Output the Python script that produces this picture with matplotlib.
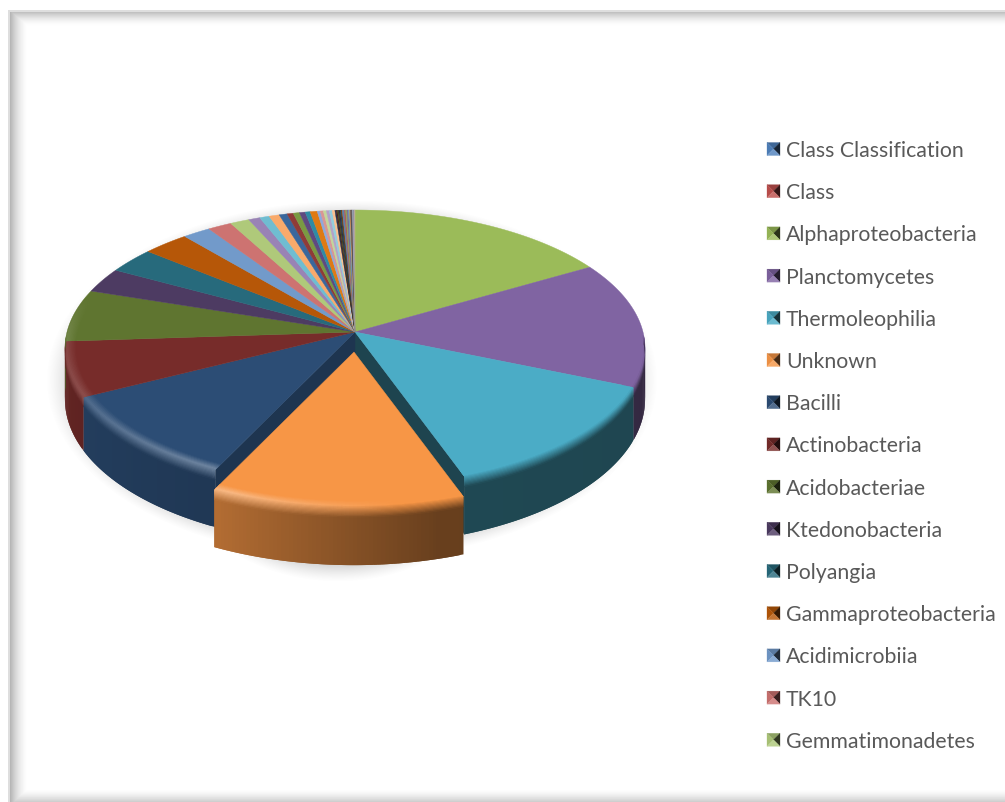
import numpy as np
import matplotlib
matplotlib.use("Agg")
import matplotlib.pyplot as plt
from matplotlib.collections import PolyCollection
from matplotlib.patches import Polygon

# Legend entries, in slice order
categories = [
    "Class Classification", "Class", "Alphaproteobacteria", "Planctomycetes",
    "Thermoleophilia", "Unknown", "Bacilli", "Actinobacteria", "Acidobacteriae",
    "Ktedonobacteria", "Polyangia", "Gammaproteobacteria", "Acidimicrobiia",
    "TK10", "Gemmatimonadetes",
]
# Share of each named class, percent
named_values = [0, 0, 16.6, 14.7, 13.2, 12.6, 10.4, 6.4, 6.1, 2.9, 3.0, 2.9,
                1.75, 1.5, 1.2]
# Remaining classes that fall outside the legend
minor_values = [0.72, 0.61, 0.64, 0.50, 0.39, 0.39, 0.36, 0.31, 0.44,
                0.19, 0.19, 0.19, 0.18, 0.18, 0.17,
                0.08, 0.08, 0.08, 0.075, 0.07, 0.07,
                0.11, 0.10, 0.085, 0.085, 0.07, 0.07, 0.055, 0.055, 0.045,
                0.045, 0.04, 0.03]
exploded_name = "Unknown"

palette = [
    "#4F81BD", "#C0504D", "#9BBB59", "#8064A2", "#4BACC6", "#F79646",
    "#2C4D75", "#772C2A", "#5F7530", "#4D3B62", "#276A7C", "#B65708",
    "#729ACA", "#CD7371", "#AFC97A", "#9983B5", "#6FBDD1", "#F9AA6B",
    "#3A679C", "#8F3B38", "#7A9A42", "#5F4A80", "#2F8BA5", "#DE7A14",
    "#8EA9DB", "#D99694", "#C3D69B", "#B3A2C7", "#93CDDD", "#FAC090",
    "#1F3552", "#4F1E1C", "#3F4E20", "#33273F", "#1A4753", "#7A3A05",
    "#5C7FAB", "#A85E5C", "#8AA35A", "#7B6696", "#5F9FB5", "#C98B55",
    "#444C55", "#6A5553", "#9AA8BC", "#A59BB3", "#6F8288", "#C8B09A",
]

# Pie geometry, in figure pixels
CX, APEX_Y = 355.0, 332.0
RX, RY = 288.0, 136.5
PERSP = 0.119
DEPTH = 50.0
EXPLODE = (-1.0, 20.0)


def rgb(c):
    return np.array(matplotlib.colors.to_rgb(c))


def project(theta, r=1.0, z=0.0, off=(0.0, 0.0)):
    """Map a point of the pie disc to the tilted, perspective view."""
    t = np.radians(theta)
    scale = 1.0 / (1.0 + PERSP * r * np.cos(t))
    x = CX + off[0] + RX * r * np.sin(t) * scale
    y = APEX_Y + off[1] - RY * r * np.cos(t) * scale + z * scale ** 1.2
    return x, y


def wall_shade(theta):
    return np.interp(theta, [90, 165, 205, 245, 270], [0.40, 0.42, 0.72, 0.80, 0.85])


def highlight(theta):
    return np.interp(theta, [90, 172, 203, 245, 272, 285], [0.0, 0.0, 0.34, 0.16, 0.10, 0.0])


def band_colour(base, theta, s):
    # s runs from the flat top (0) over the bevel to the wall (1)
    wall = base * wall_shade(theta)
    lit = base + (1 - base) * highlight(theta)
    if s < 0.4:
        c = base + (lit - base) * (s / 0.4)
    else:
        c = lit + (wall - lit) * ((s - 0.4) / 0.6)
    return np.clip(c, 0, 1)


def angle_steps(lo, hi, step=0.7):
    n = max(2, int((hi - lo) / step))
    edges = np.linspace(lo, hi, n + 1)
    # every strip runs on under its successor so no seams show between them
    return zip(edges[:-1], np.minimum(edges[1:] + (hi - lo) / n, hi))


def draw_slice_side(ax, a0, a1, base, off, z):
    lo, hi = max(a0, 92.0), min(a1, 268.0)
    if hi <= lo:
        return
    polys, cols = [], []
    for e0, e1 in angle_steps(lo, hi):
        m = 0.5 * (e0 + e1)
        polys.append([project(e0, 1, 8, off), project(e1, 1, 8, off),
                      project(e1, 1, DEPTH, off), project(e0, 1, DEPTH, off)])
        cols.append(base * wall_shade(m))
    ax.add_collection(PolyCollection(polys, facecolors=cols, edgecolors="none",
                                     linewidths=0, zorder=z))


def draw_slice_top(ax, a0, a1, base, off, z):
    th = np.linspace(a0, a1, max(3, int((a1 - a0) * 2) + 2))
    xs, ys = project(th, 1, 0, off)
    pts = [(CX + off[0], APEX_Y + off[1])] + list(zip(xs, ys))
    ax.add_patch(Polygon(pts, closed=True, fc=base, ec=base, lw=0.3, zorder=z))


def draw_slice_bevel(ax, a0, a1, base, off, z):
    lo, hi = max(a0, 85.0), min(a1, 285.0)
    if hi <= lo:
        return
    # (radius, drop) pairs describing the rounded rim profile
    profile = [(r, 0.0) for r in np.linspace(0.962, 1.0, 9)] + \
              [(1.0, d) for d in np.linspace(1.0, 9.0, 9)]
    polys, cols = [], []
    for i in range(len(profile) - 1):
        r0, z0 = profile[i]
        r1, z1 = profile[i + 1]
        if i + 2 < len(profile):
            # rows overlap the next one a little for the same reason
            r1 += 0.5 * (profile[i + 2][0] - r1)
            z1 += 0.5 * (profile[i + 2][1] - z1)
        s = (i + 0.5) / (len(profile) - 1)
        for e0, e1 in angle_steps(lo, hi):
            m = 0.5 * (e0 + e1)
            # the side drop only shows where the rim faces the viewer
            if (z0 > 0 or z1 > 0) and not 92 <= m <= 268:
                continue
            polys.append([project(e0, r0, z0, off), project(e1, r0, z0, off),
                          project(e1, r1, z1, off), project(e0, r1, z1, off)])
            cols.append(band_colour(base, m, s))
    ax.add_collection(PolyCollection(polys, facecolors=cols, edgecolors="none",
                                     linewidths=0, zorder=z))


def cut_face(ax, theta, base, z):
    px, py = project(theta, 1, 0)
    qx, qy = project(theta, 1, DEPTH)
    pts = [(CX, APEX_Y), (px, py), (qx, qy), (CX, APEX_Y + DEPTH)]
    col = base * wall_shade(theta) * 0.95
    ax.add_patch(Polygon(pts, closed=True, fc=col, ec=col, lw=0.3, zorder=z))


fig = plt.figure(figsize=(10.05, 8.02), dpi=100, facecolor="white")
ax = fig.add_axes([0, 0, 1, 1])
ax.set_axis_off()

# Chart-area frame: thin pale border with a soft inner shadow
H, W = 802, 1005
yy, xx = np.mgrid[0:H, 0:W] + 0.5
shade = np.zeros((H, W))
shade = np.maximum(shade, 0.30 * np.clip(1 - (xx - 10) / 19, 0, 1) ** 1.8 * (xx >= 10))
shade = np.maximum(shade, 0.26 * np.clip(1 - (yy - 12) / 15, 0, 1) ** 1.8 * (yy >= 12))
shade = np.maximum(shade, 0.20 * np.clip((yy - 789) / 13, 0, 1) ** 1.5)
shade[(xx < 8) | (yy < 10)] = 0
band = ((xx >= 8) & (xx < 10) & (yy >= 10)) | ((yy >= 10) & (yy < 12) & (xx >= 8))
shade[band] = 0.13
ax.imshow(1 - shade, cmap="gray", vmin=0, vmax=1, extent=(0, W, H, 0),
          aspect="auto", zorder=0, interpolation="bilinear")


# Soft drop shadow under the pie and the pulled-out slice
def ellipse_falloff(cx, cy, rx, ry, width):
    d = np.hypot((xx - cx) / rx, (yy - cy) / ry)
    return np.clip((1.0 - d) / width, 0, 1)


sh = np.maximum(ellipse_falloff(352, 380, 306, 180, 0.09),
                ellipse_falloff(338, 470, 156, 112, 0.16))
rgba = np.zeros((H, W, 4))
rgba[..., :3] = 0.5
rgba[..., 3] = 0.34 * sh ** 1.3
ax.imshow(rgba, extent=(0, W, H, 0), aspect="auto", zorder=1)

# Slices
values = np.array(named_values + minor_values, dtype=float)
starts = np.concatenate(([0.0], np.cumsum(values)[:-1])) / values.sum() * 360.0
ends = np.cumsum(values) / values.sum() * 360.0
colours = [rgb(palette[i % len(palette)]) for i in range(len(values))]
ex_idx = categories.index(exploded_name)

for i, (a0, a1, col) in enumerate(zip(starts, ends, colours)):
    if values[i] == 0 or i == ex_idx:
        continue
    draw_slice_side(ax, a0, a1, col, (0, 0), 2)

# Faces exposed by the gap the pulled-out slice leaves behind
cut_face(ax, starts[ex_idx], colours[ex_idx - 1], 3)
cut_face(ax, ends[ex_idx], colours[ex_idx + 1], 3)

for i, (a0, a1, col) in enumerate(zip(starts, ends, colours)):
    if values[i] == 0 or i == ex_idx:
        continue
    draw_slice_top(ax, a0, a1, col, (0, 0), 4)
    draw_slice_bevel(ax, a0, a1, col, (0, 0), 5)

a0, a1, col = starts[ex_idx], ends[ex_idx], colours[ex_idx]
draw_slice_side(ax, a0, a1, col, EXPLODE, 6)
draw_slice_top(ax, a0, a1, col, EXPLODE, 7)
draw_slice_bevel(ax, a0, a1, col, EXPLODE, 8)

# Legend with bevelled square keys
LEG_X, LEG_Y0, LEG_DY, KEY = 767.0, 149.0, 42.2, 13.0
for i, name in enumerate(categories):
    y = LEG_Y0 + i * LEG_DY
    c = colours[i]
    x0, x1, y0, y1 = LEG_X, LEG_X + KEY, y - KEY / 2, y + KEY / 2
    mx, my = 0.5 * (x0 + x1), 0.5 * (y0 + y1)
    faces = [
        ([(x0, y0), (x1, y0), (mx, my)], c * 0.80),
        ([(x0, y0), (x0, y1), (mx, my)], c * 0.95),
        ([(x1, y0), (x1, y1), (mx, my)], c * 0.28),
        ([(x0, y1), (x1, y1), (mx, my)], c + (1 - c) * 0.18),
    ]
    for pts, fc in faces:
        ax.add_patch(Polygon(pts, closed=True, fc=fc, ec=fc, lw=0.2, zorder=9))
    ax.text(786, y, name, family="Lato", fontsize=15.3, color="#595959",
            va="center_baseline", ha="left", zorder=9)

ax.set_xlim(0, W)
ax.set_ylim(H, 0)
fig.savefig("out.png", dpi=100, facecolor="white")
